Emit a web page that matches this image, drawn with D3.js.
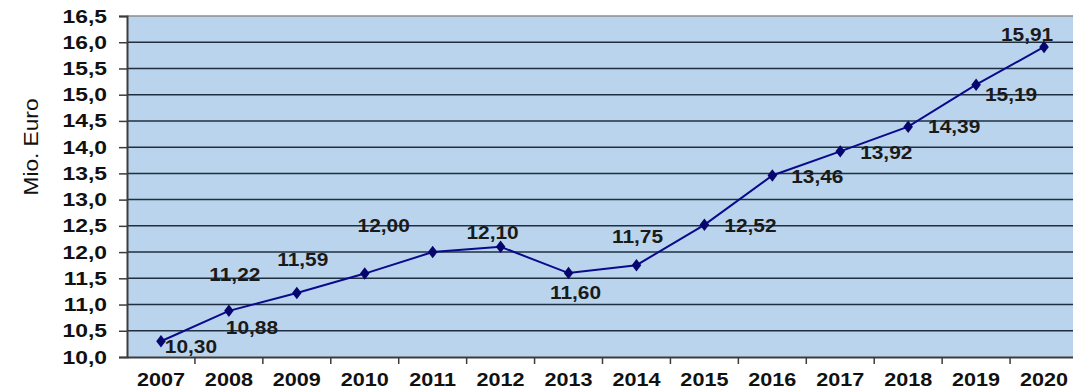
<!DOCTYPE html>
<html>
<head>
<meta charset="utf-8">
<script src="https://cdn.jsdelivr.net/npm/d3@7"></script>
<style>
  body { margin: 0; background: #fff; }
  svg { display: block; font-family: "Liberation Sans", Arial, sans-serif; }
</style>
</head>
<body>
<div id="chart"></div>
<script>
// data
let years = ['2007','2008','2009','2010','2011','2012','2013','2014','2015','2016','2017','2018','2019','2020'];
let values = [10.30, 10.88, 11.22, 11.59, 12.00, 12.10, 11.60, 11.75, 12.52, 13.46, 13.92, 14.39, 15.19, 15.91];
let yTicks = [10.0, 10.5, 11.0, 11.5, 12.0, 12.5, 13.0, 13.5, 14.0, 14.5, 15.0, 15.5, 16.0, 16.5];

// where each value label sits relative to its point (dx, dy of label centre)
let labelShift = [[30,5],[23,17],[-62,-18],[-62,-14],[-49,-27],[-8,-14],[7,19],
                  [1,-29],[46,1],[45,1],[46,1],[46,0],[35,10],[-17,-12]];

let W = 1073, H = 390;
let plotL = 127, plotR = 1078, plotT = 16, plotB = 357;

let svg = d3.select('#chart')
  .append('svg')
    .attr('width', W)
    .attr('height', H)
;

let x = d3.scaleBand().domain(years).range([plotL, plotR]);
let y = d3.scaleLinear().domain([10, 16.5]).range([plotB, plotT]);

let fmt = function(v){ return d3.format('.1f')(v).replace('.', ','); };
let fmt2 = function(v){ return d3.format('.2f')(v).replace('.', ','); };

// plot background
svg.append('rect')
    .attr('x', plotL)
    .attr('y', plotT)
    .attr('width', plotR - plotL)
    .attr('height', plotB - plotT)
    .attr('fill', '#bad4ed')
;

// gridlines
svg.selectAll('.grid').data(yTicks.slice(1, -1)).enter()
  .append('line')
    .attr('class', 'grid')
    .attr('x1', plotL)
    .attr('x2', plotR)
    .attr('y1', function(d){ return y(d); })
    .attr('y2', function(d){ return y(d); })
    .attr('stroke', '#1f2f3f')
    .attr('stroke-width', 1.5)
;

// top border
svg.append('line')
    .attr('x1', plotL).attr('x2', plotR)
    .attr('y1', plotT).attr('y2', plotT)
    .attr('stroke', '#8c8c8c')
    .attr('stroke-width', 1.5)
;

// y axis
let yAxis = d3.axisLeft(y).tickValues(yTicks).tickSize(8).tickFormat('');
svg.append('g')
    .attr('transform', 'translate(' + plotL + ',0)')
    .call(yAxis)
    .call(function(g){
      g.select('.domain').attr('stroke', '#3c3c3c').attr('stroke-width', 2);
      g.selectAll('.tick line').attr('stroke', '#3c3c3c').attr('stroke-width', 1.5);
    })
;

svg.selectAll('.ylab').data(yTicks).enter()
  .append('text')
    .attr('class', 'ylab')
    .attr('transform', function(d){ return 'translate(107,' + (y(d) + 6.5) + ') scale(1.27,1)'; })
    .attr('text-anchor', 'end')
    .attr('font-size', 18)
    .attr('font-weight', 'bold')
    .attr('fill', '#111')
    .text(fmt)
;

// x axis: ticks between categories
let xAxis = d3.axisBottom(x).tickSize(0).tickFormat('');
svg.append('g')
    .attr('transform', 'translate(0,' + plotB + ')')
    .call(xAxis)
    .call(function(g){
      g.select('.domain').attr('stroke', '#3c3c3c').attr('stroke-width', 2);
    })
;

svg.selectAll('.xtick').data(years.slice(1)).enter()
  .append('line')
    .attr('class', 'xtick')
    .attr('x1', function(d){ return x(d); })
    .attr('x2', function(d){ return x(d); })
    .attr('y1', plotB)
    .attr('y2', plotB + 7)
    .attr('stroke', '#3c3c3c')
    .attr('stroke-width', 1.5)
;

svg.selectAll('.xlab').data(years).enter()
  .append('text')
    .attr('class', 'xlab')
    .attr('transform', function(d){ return 'translate(' + (x(d) + x.bandwidth()/2) + ',385.5) scale(1.2,1)'; })
    .attr('text-anchor', 'middle')
    .attr('font-size', 18)
    .attr('font-weight', 'bold')
    .attr('fill', '#111')
    .text(function(d){ return d; })
;

// axis title
svg.append('text')
    .attr('transform', 'translate(38,147) rotate(-90)')
    .attr('text-anchor', 'middle')
    .attr('font-size', 21)
    .attr('textLength', 97)
    .attr('lengthAdjust', 'spacingAndGlyphs')
    .attr('fill', '#111')
    .text('Mio. Euro')
;

// line
let pts = years.map(function(d, i){ return {year: d, v: values[i], i: i}; });
let line = d3.line()
  .x(function(d){ return x(d.year) + x.bandwidth()/2; })
  .y(function(d){ return y(d.v); });

svg.append('path')
    .datum(pts)
    .attr('d', line)
    .attr('fill', 'none')
    .attr('stroke', '#0a0a8c')
    .attr('stroke-width', 2)
;

svg.selectAll('.pt').data(pts).enter()
  .append('path')
    .attr('class', 'pt')
    .attr('d', d3.symbol().type(d3.symbolDiamond).size(55))
    .attr('transform', function(d){ return 'translate(' + (x(d.year) + x.bandwidth()/2) + ',' + y(d.v) + ') scale(1.2,0.9)'; })
    .attr('fill', '#06066e')
;

svg.selectAll('.vlab').data(pts).enter()
  .append('text')
    .attr('class', 'vlab')
    .attr('transform', function(d){
      let cx = x(d.year) + x.bandwidth()/2 + labelShift[d.i][0];
      let cy = y(d.v) + labelShift[d.i][1] + 6.5;
      return 'translate(' + cx + ',' + cy + ') scale(1.16,1)';
    })
    .attr('text-anchor', 'middle')
    .attr('font-size', 18)
    .attr('font-weight', 'bold')
    .attr('fill', '#1a1a1a')
    .text(function(d){ return fmt2(d.v); })
;
</script>
</body>
</html>
